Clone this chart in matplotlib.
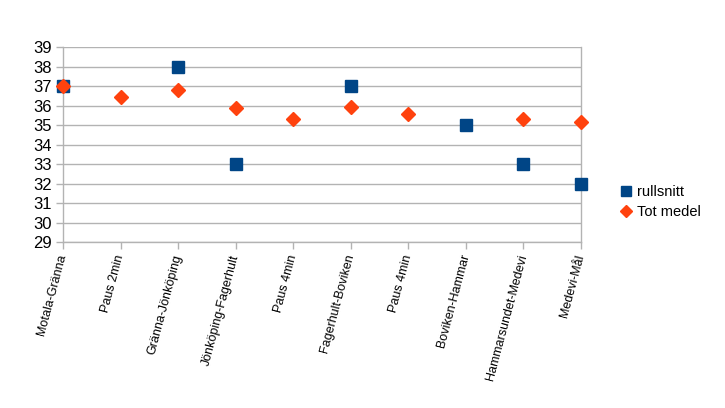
import numpy as np
import matplotlib
matplotlib.use("Agg")
import matplotlib.pyplot as plt

plt.rcParams['font.family'] = ['Liberation Sans', 'DejaVu Sans']

categories = ["Motala-Gränna", "Paus 2min", "Gränna-Jönköping", "Jönköping-Fagerhult",
              "Paus 4min", "Fagerhult-Boviken", "Paus 4min", "Boviken-Hammar",
              "Hammarsundet-Medevi", "Medevi-Mål"]
rullsnitt = [37, np.nan, 38, 33, np.nan, 37, np.nan, 35, 33, 32]
tot_medel = [37.0, 36.45, 36.8, 35.88, 35.3, 35.93, 35.56, np.nan, 35.32, 35.13]
yticks = list(range(29, 40))

fig = plt.figure(figsize=(7.25, 4.08), dpi=100)
ax = fig.add_axes([63/725, 1-242/408, (581-63)/725, (242-47)/408])

x = np.arange(len(categories))
ax.plot(x, rullsnitt, linestyle='none', marker='s', markersize=9,
        color='#004586', label='rullsnitt', zorder=3, clip_on=False)
ax.plot(x, tot_medel, linestyle='none', marker='D', markersize=7,
        color='#ff420e', label='Tot medel', zorder=4, clip_on=False)

ax.set_xlim(0, len(categories) - 1)
ax.set_ylim(29, 39)
ax.set_yticks(yticks)
ax.set_yticklabels([str(v) for v in yticks], fontsize=12)
ax.set_xticks(x)
ax.set_xticklabels(categories, rotation=75, ha='right', va='center',
                   rotation_mode='anchor', fontsize=9)
ax.grid(axis='y', color='#b3b3b3', linewidth=1)
ax.set_axisbelow(True)
for s in ['top']:
    ax.spines[s].set_visible(False)
for s in ['left', 'right', 'bottom']:
    ax.spines[s].set_color('#b3b3b3')
    ax.spines[s].set_linewidth(1)
ax.tick_params(axis='both', color='#b3b3b3', length=5, width=1)
ax.tick_params(axis='x', pad=4)
ax.tick_params(axis='y', pad=3)

ax.legend(loc='center left', bbox_to_anchor=(608/725, 1-202/408),
          bbox_transform=fig.transFigure, frameon=False, fontsize=10.5,
          handlelength=0.7, handletextpad=0.4, labelspacing=0.45,
          markerscale=0.85)

fig.savefig('out.png', dpi=100)
